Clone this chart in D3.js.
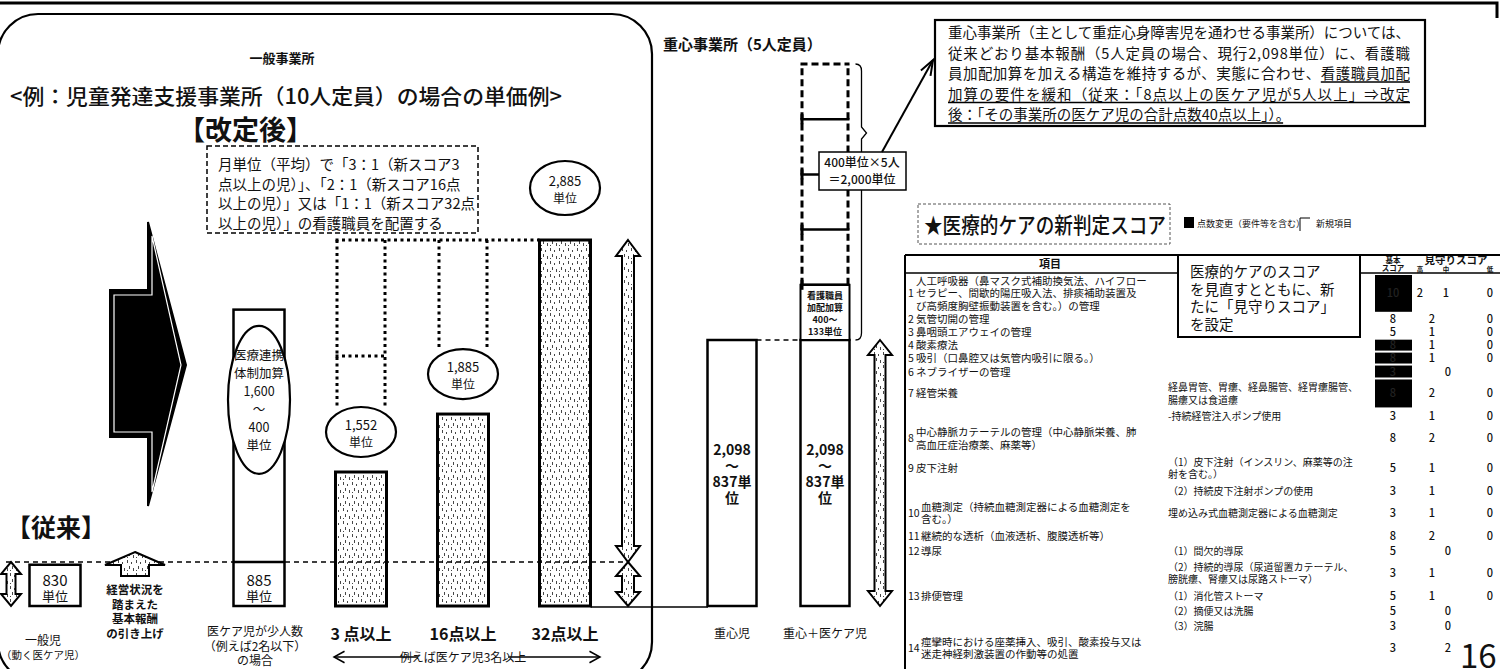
<!DOCTYPE html>
<html lang="ja"><head><meta charset="utf-8">
<script src="https://cdn.jsdelivr.net/npm/d3@7/dist/d3.min.js"></script>
<style>
html,body{margin:0;padding:0;background:#fff;overflow:hidden}
svg{display:block}
text{font-family:"Noto Sans CJK JP","Noto Sans",sans-serif;fill:#111}
</style></head><body>
<svg id="chart" width="1500" height="669"></svg>
<script>
// ---------------- data ----------------
const generalCategories = ["一般児","医ケア児少人数","3点以上","16点以上","32点以上"];
const generalBaseUnits  = [830, 885, 1552, 1885, 2885];
const generalAddOnUnits = [0, 1600, 0, 0, 0];
const generalAddOnLowUnits = [0, 400, 0, 0, 0];
const generalLabels = [["一般児","（動く医ケア児）"],["医ケア児が少人数","（例えば2名以下）","の場合"],["3 点以上"],["16点以上"],["32点以上"]];
const staffingCeilingUnits = [2885];
const dottedDividerUnits = [2218];

const heavyCategories = ["重心児","重心＋医ケア児"];
const heavyBaseUnits = [2098, 2098];
const heavyBaseLowUnits = [837, 837];
const heavyNurseSlots = [400, 400, 400, 400, 400];
const heavyNurseLowUnits = [133];

const scoreNo = ["1","2","3","4","5","6","7","","8","9","","10","11","12","","13","","","14"];
const scoreItemLines = [
  ["人工呼吸器（鼻マスク式補助換気法、ハイフロー","セラピー、間歇的陽圧吸入法、排痰補助装置及","び高頻度胸壁振動装置を含む。）の管理"],
  ["気管切開の管理"],["鼻咽頭エアウェイの管理"],["酸素療法"],["吸引（口鼻腔又は気管内吸引に限る。）"],
  ["ネブライザーの管理"],["経管栄養"],[],
  ["中心静脈カテーテルの管理（中心静脈栄養、肺","高血圧症治療薬、麻薬等）"],
  ["皮下注射"],[],["血糖測定（持続血糖測定器による血糖測定を","含む。）"],
  ["継続的な透析（血液透析、腹膜透析等）"],["導尿"],[],["排便管理"],[],[],
  ["痙攣時における座薬挿入、吸引、酸素投与又は","迷走神経刺激装置の作動等の処置"]
];
const scoreSubLines = [
  [],[],[],[],[],[],
  ["経鼻胃管、胃瘻、経鼻腸管、経胃瘻腸管、","腸瘻又は食道瘻"],["-持続経管注入ポンプ使用"],
  [],["（1）皮下注射（インスリン、麻薬等の注","射を含む。）"],["（2）持続皮下注射ポンプの使用"],
  ["埋め込み式血糖測定器による血糖測定"],[],["（1）間欠的導尿"],
  ["（2）持続的導尿（尿道留置カテーテル、","膀胱瘻、腎瘻又は尿路ストーマ）"],
  ["（1）消化管ストーマ"],["（2）摘便又は洗腸"],["（3）浣腸"],[]
];
const scoreBase = [10,8,5,8,8,3,8,3,8,5,3,3,8,5,3,5,5,3,3];
const scoreWatch = [[2,1,0],[2,0],[1,0],[1,0],[1,0],[0],[2,0],[1,0],[2,0],[1,0],[1,0],[1,0],[2,0],[0],[1,0],[1,0],[0],[0],[2]];
const scoreChanged = [1,0,0,1,1,1,1,0,0,0,0,0,0,0,0,0,0,0,0];
const watchHeader = ["高","中","低"];

// ---------------- helpers ----------------
const svg = d3.select("#chart");
const defs = svg.append("defs");
const pat = defs.append("pattern").attr("id","speck").attr("patternUnits","userSpaceOnUse").attr("width",9).attr("height",13);
pat.append("rect").attr("width",9).attr("height",13).attr("fill","#fff");
[[1.5,1,1.5,4],[5.5,3,5.5,5],[3.5,7,3.5,10],[7.5,9,7.5,12],[1.5,11,1.5,12]].forEach(d=>
  pat.append("line").attr("x1",d[0]).attr("y1",d[1]).attr("x2",d[2]).attr("y2",d[3]).attr("stroke","#333").attr("stroke-width",0.9));

function ln(x1,y1,x2,y2,w=1.5,dash=null,g=svg){
  const l=g.append("line").attr("x1",x1).attr("y1",y1).attr("x2",x2).attr("y2",y2).attr("stroke","#000").attr("stroke-width",w);
  if(dash) l.attr("stroke-dasharray",dash);
  return l;
}
function tx(x,y,s,size,anchor="start",weight=400,g=svg){
  return g.append("text").attr("x",x).attr("y",y).attr("font-size",size).attr("text-anchor",anchor).attr("font-weight",weight).text(s);
}
function dblArrow(x,y1,y2,shaft,head,hl){
  const s=shaft/2,h=head/2;
  return `M${x},${y1}L${x+h},${y1+hl}L${x+s},${y1+hl}L${x+s},${y2-hl}L${x+h},${y2-hl}L${x},${y2}L${x-h},${y2-hl}L${x-s},${y2-hl}L${x-s},${y1+hl}L${x-h},${y1+hl}Z`;
}
function openHead(x1,y1,x2,y2,len=10,ang=0.45){
  const a=Math.atan2(y2-y1,x2-x1);
  return `M${x2-len*Math.cos(a-ang)},${y2-len*Math.sin(a-ang)}L${x2},${y2}L${x2-len*Math.cos(a+ang)},${y2-len*Math.sin(a+ang)}`;
}

// ---------------- frame ----------------
svg.append("path").attr("d","M0,3H1497V18").attr("fill","none").attr("stroke","#000").attr("stroke-width",3);
svg.append("rect").attr("x",-2).attr("y",14).attr("width",654).attr("height",668).attr("rx",40)
  .attr("fill","none").attr("stroke","#000").attr("stroke-width",2.2);

// ---------------- general section ----------------
// schematic (broken) unit axis: the base band below 885 is compressed
const yU = d3.scaleLinear().domain([0, 885, 1552, 2885]).range([606, 562, 472, 240]);
const xG = d3.scaleBand().domain([generalCategories[0],"引き上げ",...generalCategories.slice(1)])
  .range([4,616]).paddingInner(0.5).paddingOuter(0.25);
const bw = xG.bandwidth();
const cx = c => xG(c)+bw/2;

tx(282,63,"一般事業所",13,"middle",700);
tx(10,104,"<例：児童発達支援事業所（10人定員）の場合の単価例>",21,"start",500).attr("textLength",552).attr("lengthAdjust","spacingAndGlyphs");
tx(178,140,"【改定後】",27,"start",700);

// dashed note box
svg.append("rect").attr("x",207).attr("y",146).attr("width",271).attr("height",87)
  .attr("fill","#fff").attr("stroke","#000").attr("stroke-width",1.5).attr("stroke-dasharray","5,3");
["月単位（平均）で「3：1（新スコア3","点以上の児）」、「2：1（新スコア16点","以上の児）」又は「1：1（新スコア32点","以上の児）」の看護職員を配置する"]
  .forEach((s,i)=>tx(218,170+i*19.5,s,14.5));

// dotted placeholders above the 3点 / 16点 bars
const dotted = "3,3.5";
ln(xG(generalCategories[2]), yU(staffingCeilingUnits[0]), xG(generalCategories[4]), yU(staffingCeilingUnits[0]), 3, dotted);
const ellR = 25, ellGap = 40;
[2,3].forEach(i=>{
  const c=generalCategories[i], top=yU(generalBaseUnits[i])-ellGap-ellR;
  ln(xG(c)+1.5, yU(staffingCeilingUnits[0]), xG(c)+1.5, top, 3, dotted);
  ln(xG(c)+bw-1.5, yU(staffingCeilingUnits[0]), xG(c)+bw-1.5, top, 3, dotted);
});
ln(xG(generalCategories[2]), yU(dottedDividerUnits[0]), xG(generalCategories[2])+bw, yU(dottedDividerUnits[0]), 3, dotted);

// bars
generalCategories.forEach((c,i)=>{
  const total = generalBaseUnits[i]+generalAddOnUnits[i];
  svg.append("rect").attr("x",xG(c)).attr("y",yU(total)).attr("width",bw).attr("height",yU(0)-yU(total))
    .attr("fill", i>=2 ? "url(#speck)" : "#fff").attr("stroke","#000").attr("stroke-width", i>=2?3:2.5);
});
ln(xG(generalCategories[1]), yU(generalBaseUnits[1]), xG(generalCategories[1])+bw, yU(generalBaseUnits[1]), 2.5);
[0,1].forEach(i=>{
  const top = yU(generalBaseUnits[i]);
  tx(cx(generalCategories[i]), top+(i===0?21:24), String(generalBaseUnits[i]), 15, "middle");
  tx(cx(generalCategories[i]), top+(i===0?36:39), "単位", 13, "middle");
});

// add-on ellipse on bar 2
{
  const c=generalCategories[1];
  const cy=(yU(generalBaseUnits[1])+yU(generalBaseUnits[1]+generalAddOnUnits[1]))/2-36;
  svg.append("ellipse").attr("cx",cx(c)).attr("cy",cy).attr("rx",31).attr("ry",74)
    .attr("fill","#fff").attr("stroke","#000").attr("stroke-width",2.2);
  ["医療連携","体制加算",d3.format(",")(generalAddOnUnits[1]),"～",String(generalAddOnLowUnits[1]),"単位"]
    .forEach((s,k)=>tx(cx(c), cy+(k-2.5)*18+5, s, 12.5, "middle"));
}
// unit ellipses above bars 3-5
[2,3,4].forEach(i=>{
  const c=generalCategories[i], cy=yU(generalBaseUnits[i])-(i===4?52:ellGap), ry=(i===4?27:ellR);
  svg.append("ellipse").attr("cx",cx(c)).attr("cy",cy).attr("rx",35).attr("ry",ry)
    .attr("fill","#fff").attr("stroke","#000").attr("stroke-width",2.2);
  tx(cx(c),cy-2,d3.format(",")(generalBaseUnits[i]),13,"middle");
  tx(cx(c),cy+15,"単位",12,"middle");
});

// horizontal dashed reference line (old level)
ln(6, yU(generalBaseUnits[1]), 628, yU(generalBaseUnits[1]), 1.5, "5,4");
ln(xG(generalCategories[4])+bw, yU(0)+1, 708, yU(0)+1, 1.5);

// big black arrow
svg.append("path").attr("d","M110,290L148,290L148,222L186,365L148,506L148,437L110,437Z").attr("fill","#000").attr("stroke","#000").attr("stroke-width",2);
svg.append("path").attr("d","M114,295L152,295L152,236L181,365L152,492L152,432L114,432Z").attr("fill","none").attr("stroke","#fff").attr("stroke-width",1.2);

// hollow up arrow + text
{
  const xa = 135;
  const t = yU(generalBaseUnits[1])-10;
  svg.append("path").attr("d",`M${xa},${t}L${xa+30},${t+13}L${xa+14},${t+13}L${xa+14},${t+24}L${xa-14},${t+24}L${xa-14},${t+13}L${xa-30},${t+13}Z`)
    .attr("fill","url(#speck)").attr("stroke","#000").attr("stroke-width",2);
  ["経営状況を","踏まえた","基本報酬","の引き上げ"].forEach((s,k)=>tx(xa,594+k*14.5,s,11.5,"middle",700));
}
tx(6,537,"【従来】",25,"start",700);

// double arrows
svg.append("path").attr("d",dblArrow(11,yU(generalBaseUnits[1]),yU(0),9,20,12)).attr("fill","url(#speck)").attr("stroke","#000").attr("stroke-width",2);
svg.append("path").attr("d",dblArrow(628,yU(staffingCeilingUnits[0]),yU(generalBaseUnits[1]),12,24,16)).attr("fill","url(#speck)").attr("stroke","#000").attr("stroke-width",2);
svg.append("path").attr("d",dblArrow(628,yU(generalBaseUnits[1]),yU(0),12,24,14)).attr("fill","url(#speck)").attr("stroke","#000").attr("stroke-width",2);

// category labels
generalCategories.forEach((c,i)=>{
  const L=generalLabels[i];
  if(i>=2) tx(cx(c),640,L[0],16,"middle",700);
  else if(i===0) L.forEach((s,k)=>tx(cx(c)-12,645+k*14,s,k===1?10.5:12,"middle"));
  else L.forEach((s,k)=>tx(cx(c)-4,636+k*14.5,s,12,"middle"));
});
{
  const y=657;
  ln(418,y,334,y,1.5); svg.append("path").attr("d",openHead(418,y,334,y,12,0.5)).attr("fill","none").attr("stroke","#000").attr("stroke-width",1.5);
  ln(508,y,600,y,1.5); svg.append("path").attr("d",openHead(508,y,600,y,12,0.5)).attr("fill","none").attr("stroke","#000").attr("stroke-width",1.5);
  tx(463,662,"例えば医ケア児3名以上",12,"middle");
}

// ---------------- heavy section ----------------
const yH = d3.scaleLinear().domain([0, 2098, 4098]).range([606, 340, 64]);
const xH = d3.scalePoint().domain(heavyCategories).range([732, 825]);
const hbw = 49;
tx(663,50,"重心事業所（5人定員）",15,"start",700);
heavyCategories.forEach((c,i)=>{
  svg.append("rect").attr("x",xH(c)-hbw/2).attr("y",yH(heavyBaseUnits[i])).attr("width",hbw).attr("height",yH(0)-yH(heavyBaseUnits[i]))
    .attr("fill","#fff").attr("stroke","#000").attr("stroke-width",2.5);
  const cy=(yH(heavyBaseUnits[i])+yH(0))/2;
  [d3.format(",")(heavyBaseUnits[i]),"～",heavyBaseLowUnits[i]+"単","位"].forEach((s,k)=>tx(xH(c),cy-18+k*16,s,14,"middle",700));
  tx(xH(c),638,c,12,"middle");
});
ln(xH(heavyCategories[0])+hbw/2, yH(heavyBaseUnits[0]), xH(heavyCategories[1])-hbw/2, yH(heavyBaseUnits[0]), 1.5, "5,4");

{
  const c=heavyCategories[1], x0=xH(c)-hbw/2, x1=xH(c)+hbw/2;
  let acc=heavyBaseUnits[1];
  heavyNurseSlots.forEach((v,k)=>{
    const yb=yH(acc), yt=yH(acc+v);
    if(k===0){
      svg.append("rect").attr("x",x0).attr("y",yt).attr("width",hbw).attr("height",yb-yt).attr("fill","#fff").attr("stroke","#000").attr("stroke-width",2);
      ["看護職員","加配加算",v+"～",heavyNurseLowUnits[0]+"単位"].forEach((s,j)=>tx(xH(c),yt+14+j*12,s,9,"middle",700));
    } else {
      ln(x0+1.5,yb,x0+1.5,yt,3,"7,4");
      ln(x1-1.5,yb,x1-1.5,yt,3,"7,4");
      ln(x0,yb,x1,yb,2.5);
      ln(x0+1.5,yb-5,x0+1.5,yb+5,3);
    }
    acc+=v;
  });
  ln(x0,yH(acc),x1,yH(acc),3,"7,4");
  const yt=yH(acc), yb=yH(heavyBaseUnits[1]), xb=x1+12, ym=yH(heavyBaseUnits[1]+d3.sum(heavyNurseSlots)*0.75);
  svg.append("path").attr("d",`M${xb-6},${yt}Q${xb},${yt} ${xb},${yt+7}L${xb},${ym-6}L${xb+5},${ym}L${xb},${ym+6}L${xb},${yb-7}Q${xb},${yb} ${xb-6},${yb}`)
    .attr("fill","none").attr("stroke","#000").attr("stroke-width",1.3);
  const by=171;
  svg.append("rect").attr("x",819).attr("y",by-19).attr("width",87).attr("height",38).attr("fill","#fff").attr("stroke","#000").attr("stroke-width",1.5);
  tx(862,by-4,heavyNurseSlots[0]+"単位×"+heavyNurseSlots.length+"人",12,"middle",500);
  tx(862,by+13,"＝"+d3.format(",")(d3.sum(heavyNurseSlots))+"単位",12,"middle",500);
  ln(882,by-19,933,60,2);
  svg.append("path").attr("d",openHead(882,by-19,933,60,16,0.35)).attr("fill","none").attr("stroke","#000").attr("stroke-width",2);
}
svg.append("path").attr("d",dblArrow(880,yH(heavyBaseUnits[1]),yH(0),11,24,15)).attr("fill","url(#speck)").attr("stroke","#000").attr("stroke-width",2);

// ---------------- explanation box ----------------
svg.append("rect").attr("x",935).attr("y",20).attr("width",490).attr("height",106).attr("fill","#fff").attr("stroke","#000").attr("stroke-width",2.2);
const boxLines = [
  [["重心事業所（主として重症心身障害児を通わせる事業所）については、",false]],
  [["従来どおり基本報酬（5人定員の場合、現行2,098単位）に、看護職",false]],
  [["員加配加算を加える構造を維持するが、実態に合わせ、",false],["看護職員加配",true]],
  [["加算の要件を緩和（従来：「8点以上の医ケア児が5人以上」⇒改定",true]],
  [["後：「その事業所の医ケア児の合計点数40点以上」）",true],["。",false]]
];
boxLines.forEach((parts,i)=>{
  const y=38+i*20.5;
  const t=svg.append("text").attr("x",948).attr("y",y).attr("font-size",14.5);
  if(i<4) t.attr("textLength",462).attr("lengthAdjust","spacing");
  parts.forEach(([s,u])=>{
    const sp=t.append("tspan").text(s);
    if(u){
      const node=sp.node();
      const st=node.getStartPositionOfChar(0).x;
      const en=node.getEndPositionOfChar(s.length-1).x;
      ln(st,y+3,en,y+3,1.3);
    }
  });
});

// ---------------- ★ score title ----------------
svg.append("rect").attr("x",918).attr("y",204).attr("width",252).attr("height",40).attr("fill","none").attr("stroke","#555").attr("stroke-width",1).attr("stroke-dasharray","3,2");
tx(924,233,"★医療的ケアの新判定スコア",22,"start",500).attr("textLength",242).attr("lengthAdjust","spacingAndGlyphs");
svg.append("rect").attr("x",1184).attr("y",217).attr("width",10).attr("height",11).attr("fill","#000");
tx(1197,227,"点数変更（要件等を含む）",9);
svg.append("path").attr("d","M1300,231V218H1310").attr("fill","none").attr("stroke","#000").attr("stroke-width",1);
tx(1316,227,"新規項目",9);

// ---------------- score table ----------------
const baseX = 1393, watchX = {3:[1420,1446,1490],2:[1432,1490],1:[1448]};
const rowUnits = scoreItemLines.map((d,i)=>Math.max(1,d.length,scoreSubLines[i].length));
const cum = d3.cumsum([0,...rowUnits]);
const yRow = d3.scaleLinear().domain([0,7.5,cum[cum.length-1]]).range([274,371,663]);
const lh = 12.3;

ln(905,255,1500,255,2);
ln(905,273,1500,273,1.5);
ln(905,255,905,669,2);
tx(1050,268,"項目",11,"middle",700);
tx(baseX,263,"基本",7.5,"middle",700); tx(baseX,271,"スコア",7.5,"middle",700);
tx(1456,264,"見守りスコア",10.5,"middle",700);
watchHeader.forEach((s,k)=>tx(watchX[3][k],272,s,6.5,"middle",700));

scoreItemLines.forEach((lines,i)=>{
  const ya=yRow(cum[i]), yb=yRow(cum[i+1]), cy=(ya+yb)/2;
  if(scoreChanged[i]){
    svg.append("rect").attr("x",1375).attr("y",ya+1).attr("width",37).attr("height",yb-ya-2).attr("fill","#000");
  }
  if(scoreNo[i]) tx(908,cy+4,scoreNo[i],10.5);
  const xt = scoreNo[i].length>1 ? 921 : 916;
  lines.forEach((s,k)=>tx(xt, cy+(k-(lines.length-1)/2)*lh+4, s, 10.5));
  scoreSubLines[i].forEach((s,k)=>tx(1168, cy+(k-(scoreSubLines[i].length-1)/2)*lh+4, s, 10));
  tx(baseX, cy+4, String(scoreBase[i]), 11, "middle", 500).style("fill", scoreChanged[i] ? "#222" : "#111");
  const w=scoreWatch[i];
  w.forEach((v,k)=>tx(watchX[w.length][k], cy+4, String(v), 11, "middle", 500));
});

// callout over the table
svg.append("rect").attr("x",1178).attr("y",255).attr("width",182).attr("height",82).attr("fill","#fff").attr("stroke","#000").attr("stroke-width",2);
["医療的ケアのスコア","を見直すとともに、新","たに「見守りスコア」","を設定"].forEach((s,k)=>tx(1190,277+k*17.5,s,14.5));

// page number
svg.append("rect").attr("x",1460).attr("y",641).attr("width",40).attr("height",28).attr("fill","#fff");
tx(1460,668,"16",33,"start",400);
</script>
</body></html>
